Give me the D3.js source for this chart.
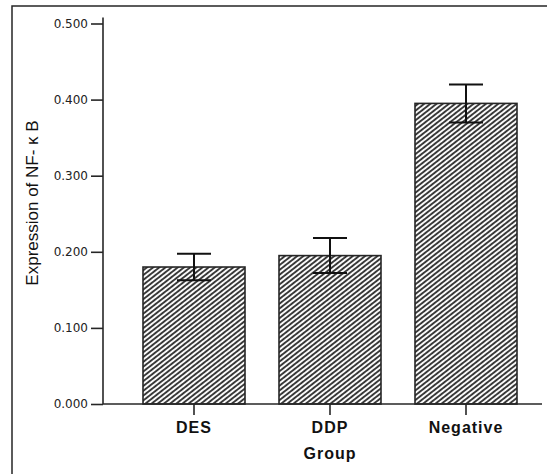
<!DOCTYPE html>
<html>
<head>
<meta charset="utf-8">
<script src="https://cdn.jsdelivr.net/npm/d3@7"></script>
<style>
  html, body { margin: 0; padding: 0; background: #fff; }
  svg { display: block; }
</style>
</head>
<body>
<div id="frame"></div>
<script>
// bar chart: expression of NF-kB by group

const groups = ["DES", "DDP", "Negative"];
const means = [0.180, 0.195, 0.395];
const errs = [0.0175, 0.023, 0.025];
const yTicks = [0.0, 0.1, 0.2, 0.3, 0.4, 0.5];

const WIDTH = 547;
const HEIGHT = 474;
const AXIS_X = 103;
const AXIS_RIGHT = 542;
const BASE_Y = 404;
const TOP_Y = 23.5;
const INK = "#262626";

const svg = d3.select("#frame")
  .append("svg")
    .attr("width", WIDTH)
    .attr("height", HEIGHT);

// hatch fill
const defs = svg.append("defs");
const pat = defs.append("pattern")
    .attr("id", "hatch")
    .attr("patternUnits", "userSpaceOnUse")
    .attr("width", 8)
    .attr("height", 3.8)
    .attr("patternTransform", "rotate(-38)");
pat.append("rect")
    .attr("width", 8).attr("height", 3.8)
    .attr("fill", "#fff");
pat.append("line")
    .attr("x1", 0).attr("x2", 8)
    .attr("y1", 1).attr("y2", 1)
    .attr("stroke", "#333")
    .attr("stroke-width", 1.9);

// outer frame (only top and left edges visible)
svg.append("path")
    .attr("d", `M12,${HEIGHT} L12,6 L${WIDTH},6`)
    .attr("fill", "none")
    .attr("stroke", INK)
    .attr("stroke-width", 1.5);

const Y_SCALE = d3.scaleLinear()
    .domain([0, 0.5])
    .range([BASE_Y, TOP_Y]);

const X_SCALE = d3.scaleBand()
    .domain(groups)
    .range([126, 534])
    .paddingInner(0.25)
    .paddingOuter(0.125);

const rows = groups.map((g, i) => ({g: g, m: means[i], e: errs[i]}));

// bars
svg.selectAll(".bar")
  .data(rows)
  .enter()
  .append("rect")
    .attr("class", "bar")
    .attr("x", d => X_SCALE(d.g))
    .attr("y", d => Y_SCALE(d.m))
    .attr("width", X_SCALE.bandwidth())
    .attr("height", d => BASE_Y - Y_SCALE(d.m))
    .attr("fill", "url(#hatch)")
    .attr("stroke", INK)
    .attr("stroke-width", 1.6);

// error bars
const eb = svg.selectAll(".err")
  .data(rows)
  .enter()
  .append("g")
    .attr("class", "err")
    .attr("stroke", "#111")
    .attr("stroke-width", 2);
const cx = d => X_SCALE(d.g) + X_SCALE.bandwidth() / 2;
eb.append("line")
    .attr("x1", cx).attr("x2", cx)
    .attr("y1", d => Y_SCALE(d.m + d.e))
    .attr("y2", d => Y_SCALE(d.m - d.e));
eb.append("line")
    .attr("x1", d => cx(d) - 17).attr("x2", d => cx(d) + 17)
    .attr("y1", d => Y_SCALE(d.m + d.e))
    .attr("y2", d => Y_SCALE(d.m + d.e));
eb.append("line")
    .attr("x1", d => cx(d) - 17).attr("x2", d => cx(d) + 17)
    .attr("y1", d => Y_SCALE(d.m - d.e))
    .attr("y2", d => Y_SCALE(d.m - d.e));

// y axis
const yAxis = svg.append("g")
    .attr("transform", `translate(${AXIS_X},0)`)
    .call(d3.axisLeft(Y_SCALE)
        .tickValues(yTicks)
        .tickFormat(d3.format(".3f"))
        .tickSize(12)
        .tickPadding(3));
yAxis.select(".domain").remove();
yAxis.selectAll(".tick line").attr("stroke", INK).attr("stroke-width", 1.6);
yAxis.selectAll(".tick text")
    .attr("fill", "#222")
    .attr("font-family", "DejaVu Sans, sans-serif")
    .attr("font-size", "12px");
svg.append("line")
    .attr("x1", AXIS_X).attr("x2", AXIS_X)
    .attr("y1", TOP_Y - 6).attr("y2", BASE_Y)
    .attr("stroke", INK).attr("stroke-width", 1.6);

// x axis
const xAxis = svg.append("g")
    .attr("transform", `translate(0,${BASE_Y})`)
    .call(d3.axisBottom(X_SCALE).tickSize(11).tickPadding(7));
xAxis.select(".domain").remove();
xAxis.selectAll(".tick line").attr("stroke", INK).attr("stroke-width", 1.6);
xAxis.selectAll(".tick text")
    .attr("fill", "#111")
    .attr("font-family", "Liberation Sans, Arial, sans-serif")
    .attr("font-weight", "bold")
    .attr("font-size", "16px")
    .attr("letter-spacing", "1px");
svg.append("line")
    .attr("x1", AXIS_X).attr("x2", AXIS_RIGHT)
    .attr("y1", BASE_Y).attr("y2", BASE_Y)
    .attr("stroke", INK).attr("stroke-width", 1.6);

// axis titles
svg.append("text")
    .attr("x", 330)
    .attr("y", 459)
    .attr("text-anchor", "middle")
    .attr("font-family", "Liberation Sans, Arial, sans-serif")
    .attr("font-weight", "bold")
    .attr("font-size", "16px")
    .attr("letter-spacing", "1px")
    .attr("fill", "#111")
    .text("Group");

svg.append("text")
    .attr("transform", "translate(38,203) rotate(-90)")
    .attr("text-anchor", "middle")
    .attr("font-family", "Liberation Sans, Arial, sans-serif")
    .attr("font-size", "17px")
    .attr("fill", "#111")
    .text("Expression of NF- κ B");
</script>
</body>
</html>
